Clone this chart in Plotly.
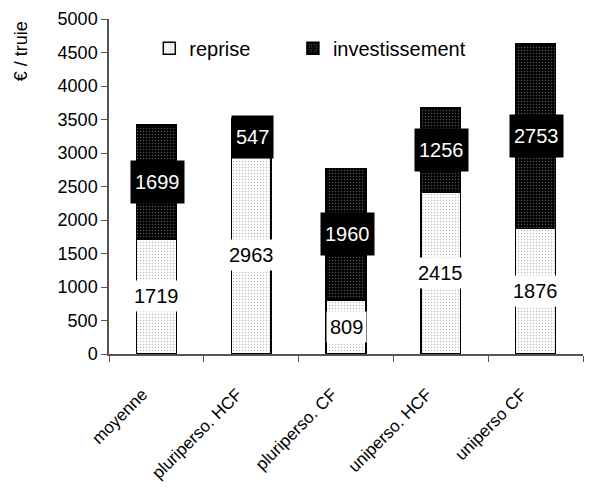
import plotly.graph_objects as go

categories = ["moyenne", "pluriperso. HCF", "pluriperso. CF", "uniperso. HCF", "uniperso CF"]
reprise = [1719, 2963, 809, 2415, 1876]
investissement = [1699, 547, 1960, 1256, 2753]
y_ticks = list(range(0, 5001, 500))

FONT = "Liberation Sans, Arial, sans-serif"

fig = go.Figure()
fig.add_trace(go.Bar(
    x=categories, y=reprise, name="reprise", width=0.42, legend="legend",
    marker=dict(color="white", line=dict(color="black", width=1.5),
                pattern=dict(shape=".", fgcolor="#777777", bgcolor="white", size=3, solidity=0.2)),
))
fig.add_trace(go.Bar(
    x=categories, y=investissement, name="investissement", width=0.42, legend="legend2",
    marker=dict(color="black", line=dict(color="black", width=1.5),
                pattern=dict(shape=".", fgcolor="#aaaaaa", bgcolor="black", size=3, solidity=0.2)),
))

annotations = []
for c, r, v in zip(categories, reprise, investissement):
    annotations.append(dict(x=c, y=r / 2, xref="x", yref="y", text=str(r), showarrow=False,
                            font=dict(family=FONT, size=20, color="black"),
                            bgcolor="white", height=24, borderpad=3))
    annotations.append(dict(x=c, y=r + v / 2, xref="x", yref="y", text=str(v), showarrow=False,
                            font=dict(family=FONT, size=20, color="white"),
                            bgcolor="black", height=34, borderpad=4, xshift=1))
annotations.append(dict(x=-0.185, y=1.0, xref="paper", yref="paper", text="€ / truie", textangle=-90,
                        showarrow=False, xanchor="center", yanchor="top",
                        font=dict(family=FONT, size=18, color="black")))

legend_common = dict(orientation="h", y=0.913, xanchor="left", yanchor="middle",
                     font=dict(family=FONT, size=20), bgcolor="rgba(0,0,0,0)")

fig.update_layout(
    barmode="stack",
    width=605, height=490,
    margin=dict(l=101, r=30, t=11, b=144),
    paper_bgcolor="white", plot_bgcolor="white",
    font=dict(family=FONT, size=17, color="black"),
    showlegend=True,
    legend=dict(x=0.085, **legend_common),
    legend2=dict(x=0.388, **legend_common),
    annotations=annotations,
)
fig.update_yaxes(range=[0, 5000], tickvals=y_ticks, ticks="outside", ticklen=6, tickcolor="#555",
                 showline=True, linecolor="#555", linewidth=1.5, showgrid=False, zeroline=False,
                 automargin=False, tickfont=dict(family=FONT, size=18))
fig.update_xaxes(type="category", tickson="boundaries", ticks="outside", ticklen=6, tickcolor="#555",
                 showline=True, linecolor="#555", linewidth=1.5, showgrid=False, automargin=False,
                 ticklabelstandoff=22, ticklabelshift=-14,
                 tickangle=-45, tickfont=dict(family=FONT, size=17))

fig.write_html("out.html")
